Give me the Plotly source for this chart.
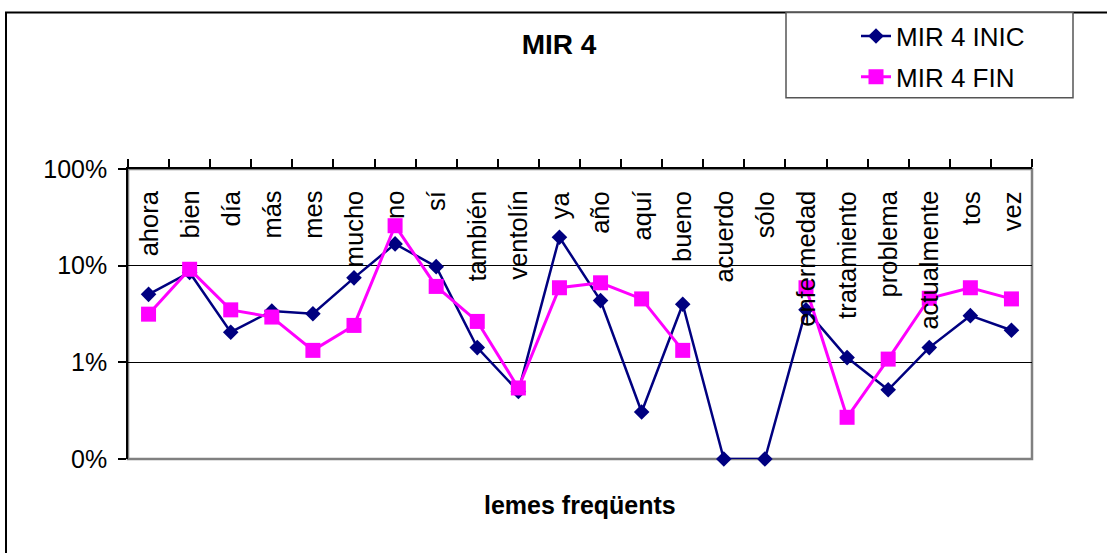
import plotly.graph_objects as go

# Frequent lemmas (category axis)
lemes = ["ahora", "bien", "día", "más", "mes", "mucho", "no", "sí", "también",
         "ventolín", "ya", "año", "aquí", "bueno", "acuerdo", "sólo",
         "enfermedad", "tratamiento", "problema", "actualmente", "tos", "vez"]

# Relative frequency of each lemma (fraction of total)
mir4_inic = [0.0505, 0.085, 0.0205, 0.034, 0.0318, 0.0748, 0.168, 0.0977, 0.0142,
             0.0050, 0.197, 0.0435, 0.00306, 0.0399, 0.001, 0.001,
             0.0349, 0.0112, 0.0052, 0.0142, 0.0304, 0.0215]
mir4_fin = [0.0315, 0.0918, 0.0349, 0.0294, 0.0133, 0.0241, 0.259, 0.061, 0.0265,
            0.00543, 0.0591, 0.0665, 0.0453, 0.0133, None, None,
            0.0591, 0.0027, 0.0108, 0.046, 0.0591, 0.0453]

y_ticks = [0.001, 0.01, 0.1, 1]

FONT = "Liberation Sans, Arial, sans-serif"
W, H = 1107, 553
L, R, T, B = 128, 75, 166, 94
PW, PH = W - L - R, H - T - B


def px_x(px):
    return (px - L) / PW


def px_y(py):
    return (H - B - py) / PH


fig = go.Figure()
fig.add_trace(go.Scatter(
    x=lemes, y=mir4_inic, name="MIR 4 INIC", mode="lines+markers",
    line=dict(color="#000080", width=2.5),
    marker=dict(symbol="diamond", size=12, color="#000080"),
    cliponaxis=False, legendgroup="a",
))
fig.add_trace(go.Scatter(
    x=lemes, y=mir4_fin, name="MIR 4 FIN", mode="lines+markers",
    line=dict(color="#FF00FF", width=3),
    marker=dict(symbol="square", size=15, color="#FF00FF"),
    connectgaps=False, cliponaxis=False, legendgroup="b",
))

# Category labels written vertically just under the top axis
annotations = [
    dict(x=lab, y=px_y(186), xref="x", yref="paper", text=lab, showarrow=False,
         textangle=-90, xanchor="center", yanchor="top",
         font=dict(family=FONT, size=25.5, color="black"))
    for lab in lemes
]
annotations.append(dict(
    x=0.5, y=px_y(505), xref="paper", yref="paper", text="<b>lemes freqüents</b>",
    showarrow=False, xanchor="center", yanchor="middle",
    font=dict(family=FONT, size=25, color="black")))

shapes = [
    # chart frame
    dict(type="rect", xref="paper", yref="paper", x0=px_x(6), x1=px_x(1120),
         y0=px_y(570), y1=px_y(8), line=dict(color="black", width=2), layer="below"),
    # plot area frame
    dict(type="rect", xref="paper", yref="paper", x0=0, x1=1, y0=0, y1=1,
         line=dict(color="#808080", width=2.5), layer="below"),
    # legend box
    dict(type="rect", xref="paper", yref="paper", x0=px_x(786), x1=px_x(1073),
         y0=px_y(94), y1=px_y(8), line=dict(color="#555555", width=1.5),
         fillcolor="white", layer="below"),
]

fig.update_layout(
    width=W, height=H,
    margin=dict(l=L, r=R, t=T, b=B),
    paper_bgcolor="white", plot_bgcolor="white",
    font=dict(family=FONT, size=25, color="black"),
    title=dict(text="<b>MIR 4</b>", x=559 / W, y=1 - 44 / H, xref="container",
               yref="container", xanchor="center", yanchor="middle",
               font=dict(family=FONT, size=28, color="black")),
    showlegend=True,
    legend=dict(x=px_x(856), y=px_y(8), xanchor="left", yanchor="top",
                bgcolor="rgba(0,0,0,0)", borderwidth=0,
                font=dict(family=FONT, size=26, color="black"),
                tracegroupgap=4, traceorder="grouped"),
    annotations=annotations,
    shapes=shapes,
)

fig.update_xaxes(
    type="category", side="top", range=[-0.5, len(lemes) - 0.5],
    showline=True, linecolor="black", linewidth=1.5,
    ticks="outside", ticklen=8, tickcolor="black", tickwidth=1.5,
    tickson="boundaries", showticklabels=False, showgrid=False, zeroline=False,
)
fig.update_yaxes(
    type="log", range=[-3, 0], tickvals=y_ticks, tickformat=".0%",
    showline=True, linecolor="black", linewidth=1.5,
    ticks="outside", ticklen=8, tickcolor="black", tickwidth=1.5,
    ticklabelstandoff=6,
    showgrid=True, gridcolor="black", gridwidth=1,
    tickfont=dict(family=FONT, size=25, color="black"), zeroline=False,
)

fig.write_html("out.html")
